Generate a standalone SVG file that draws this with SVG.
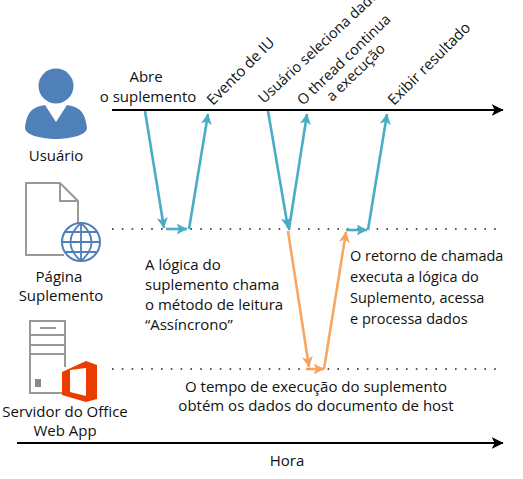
<svg xmlns="http://www.w3.org/2000/svg" width="523" height="479" viewBox="0 0 523 479">
<defs>
<style>
text{font-family:"Open Sans","Noto Sans","Liberation Sans",sans-serif;font-size:15px;fill:#111}
.m{text-anchor:middle}
.r{font-size:14.5px}
.t{fill:none;stroke:#4bacc6;stroke-width:2.6}
.o{fill:none;stroke:#f79646;stroke-opacity:.85;stroke-width:2.6}
.k{fill:none;stroke:#000;stroke-width:2.2}
.d{fill:none;stroke:#222;stroke-width:1.6;stroke-dasharray:1.6 8.2}
.g{fill:none;stroke:#999;stroke-width:2}
.b{fill:#4f81b8}
</style>
<marker id="at" viewBox="0 0 10 10" refX="9.5" refY="5" markerUnits="userSpaceOnUse" markerWidth="11" markerHeight="11" orient="auto"><path d="M0 0L10 5L0 10L2.5 5Z" fill="#4bacc6"/></marker>
<marker id="ao" viewBox="0 0 10 10" refX="9.5" refY="5" markerUnits="userSpaceOnUse" markerWidth="11" markerHeight="11" orient="auto"><path d="M0 0L10 5L0 10L2.5 5Z" fill="#f9a25f"/></marker>
<marker id="ak" viewBox="0 0 10 10" refX="9.5" refY="5" markerUnits="userSpaceOnUse" markerWidth="12" markerHeight="12" orient="auto"><path d="M0 0L10 5L0 10L2.5 5Z" fill="#000"/></marker>
</defs>
<g id="connectors">
<path class="k" d="M112 110H503" marker-end="url(#ak)"/>
<path class="k" d="M17 443H503" marker-end="url(#ak)"/>
<path class="d" d="M112 229H503"/>
<path class="d" d="M112 369H503"/>
<path class="t" d="M145 111L164 228" marker-end="url(#at)"/>
<path class="t" d="M166 229H187" marker-end="url(#at)"/>
<path class="t" d="M189 229L208 114" marker-end="url(#at)"/>
<path class="t" d="M268 111L288 228" marker-end="url(#at)"/>
<path class="t" d="M289 229L307 114" marker-end="url(#at)"/>
<path class="t" d="M346 230H367" marker-end="url(#at)"/>
<path class="t" d="M368 230L387 114" marker-end="url(#at)"/>
<path class="o" d="M288 231L309 367" marker-end="url(#ao)"/>
<path class="o" d="M306 369H324" marker-end="url(#ao)"/>
<path class="o" d="M324 369L346 232" marker-end="url(#ao)"/>
</g>
<g id="usuario">
<circle class="b" cx="56" cy="86" r="17.5"/>
<path class="b" d="M45 105L56 122L67 105C78 107 85 110 87 128C87 135 70 139 56 139C42 139 25 135 25 128C27 110 34 107 45 105Z"/>
<text class="m" x="56" y="161">Usuário</text>
</g>
<g id="pagina">
<path class="g" d="M64 255H26V183H60L78 201V223M60 183V201H78"/>
<circle cx="81" cy="242" r="19" fill="#fff" stroke="#4f81b8" stroke-width="2"/>
<path d="M62 242H100M65 232H97M65 252H97M81 223V261M81 223C67 235 67 249 81 261M81 223C95 235 95 249 81 261" fill="none" stroke="#4f81b8" stroke-width="1.8"/>
<text class="m" x="59" y="282">Página</text>
<text class="m" x="61" y="301">Suplemento</text>
</g>
<g id="servidor">
<path class="g" d="M65 367V321H30V393H65M30 335H65M30 345H65M30 354H65M40 328H56"/>
<rect x="35" y="379" width="6" height="8" fill="#888"/>
<path fill="#eb3c00" d="M62 372L86 361L97 365V399L86 402L62 395ZM70 370V392L86 396V368Z" fill-rule="evenodd"/>
<text class="m" x="65" y="417">Servidor do Office</text>
<text class="m" x="65" y="436">Web App</text>
</g>
<g id="rotulos">
<text class="m" x="146" y="82">Abre</text>
<text class="m" x="148" y="102">o suplemento</text>
<text transform="translate(213 106) rotate(-45)">Evento de IU</text>
<text class="r" transform="translate(264 104) rotate(-43)">Usuário seleciona dados</text>
<text class="r" transform="translate(303 106) rotate(-44)">O thread continua</text>
<text class="r" transform="translate(332 102) rotate(-44)">a execução</text>
<text transform="translate(394 106) rotate(-45)">Exibir resultado</text>
</g>
<g id="notas">
<text x="145" y="270">A lógica do</text>
<text x="145" y="290">suplemento chama</text>
<text x="145" y="310">o método de leitura</text>
<text x="145" y="330">“Assíncrono”</text>
<text class="r" x="350" y="261">O retorno de chamada</text>
<text class="r" x="350" y="282">executa a lógica do</text>
<text class="r" x="350" y="303">Suplemento, acessa</text>
<text class="r" x="350" y="324">e processa dados</text>
<text class="m" x="316" y="392">O tempo de execução do suplemento</text>
<text class="m" x="316" y="411">obtém os dados do documento de host</text>
<text class="m" x="287" y="466">Hora</text>
</g>
</svg>
